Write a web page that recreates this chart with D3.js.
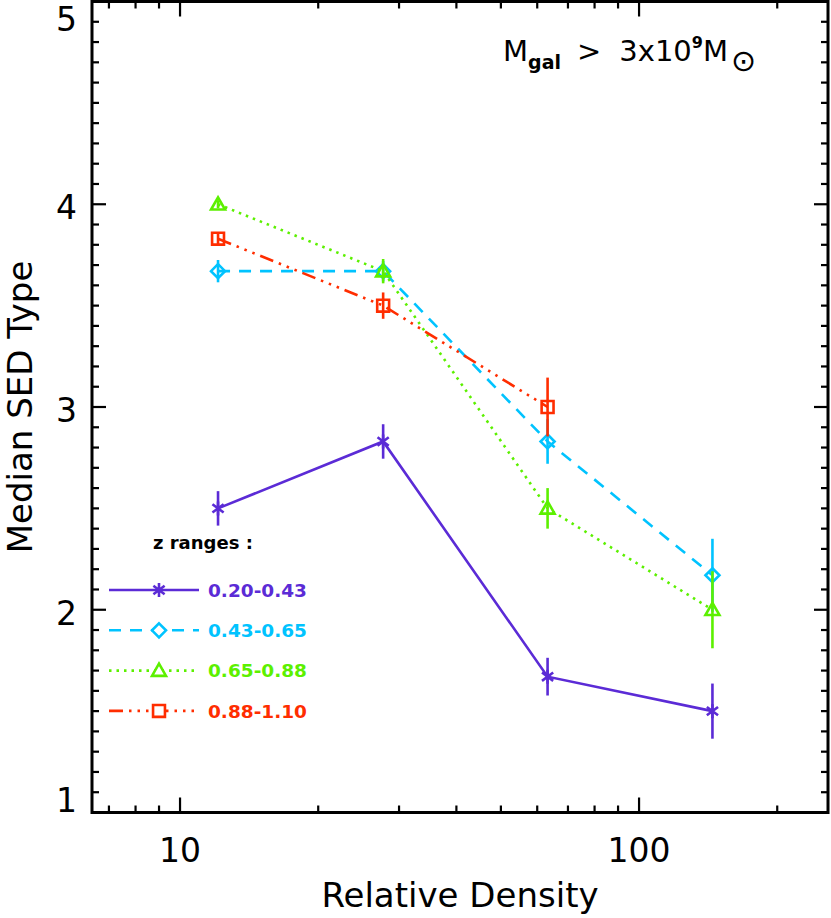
<!DOCTYPE html>
<html>
<meta charset="utf-8">
<head>
  <style>
    body { margin: 0; background: #fff; }
    svg text { font-family: "DejaVu Sans", sans-serif; }
  </style>
  <script src="https://d3js.org/d3.v7.min.js"></script>
</head>
<body>
<div id="chart-container"></div>
<script type="text/javascript">

  // median SED type vs relative density, one array per z range
  var density = [12.1, 27.7, 63.2, 144.5];
  var zRanges = ["0.20-0.43", "0.43-0.65", "0.65-0.88", "0.88-1.10"];

  var sedZ1 = [2.50, 2.83, 1.67, 1.50];
  var errZ1 = [0.085, 0.085, 0.093, 0.136];
  var sedZ2 = [3.67, 3.67, 2.83, 2.17];
  var errZ2 = [0.055, 0.05, 0.11, 0.18];
  var sedZ3 = [4.00, 3.67, 2.50, 2.00];
  var errZ3 = [0.02, 0.06, 0.10, 0.19];
  var sedZ4 = [3.83, 3.50, 3.00];
  var errZ4 = [0.03, 0.065, 0.145];

  var yTickLabels = [1, 2, 3, 4, 5];
  var xTickLabels = [10, 100];

  var colors = ["#5b2bd6", "#00c3ff", "#5cf000", "#ff2d00"];
  var dashes = [null, "12,9", "2.5,5", "14,6,2.5,6,2.5,6,2.5,6"];
  var symbols = ["asterisk", "diamond", "triangle", "square"];

  var w = 831, h = 918;
  // note: "top" is a reserved window global, so plot edges get their own names
  var plotL = 92, plotR = 828, plotT = 1.5, plotB = 812.5;

  var svg = d3.select("#chart-container").append("svg")
      .attr("width", w).attr("height", h);

  var x = d3.scaleLog().domain([6.43, 258]).range([plotL, plotR]);
  var y = d3.scaleLinear().domain([1, 5]).range([plotB, plotT]);

  // frame
  svg.append("rect")
      .attr("x", plotL).attr("y", plotT)
      .attr("width", plotR - plotL).attr("height", plotB - plotT)
      .attr("fill", "none").attr("stroke", "#000").attr("stroke-width", 3);

  // x ticks (bottom up, top down)
  var xt = x.ticks().filter(function(d){ return d > 6.43 && d < 258; });
  function isMajorX(d){ return Math.abs(Math.log10(d) - Math.round(Math.log10(d))) < 1e-6; }
  xt.forEach(function(d){
    var len = isMajorX(d) ? 15 : 7;
    svg.append("line").attr("x1", x(d)).attr("x2", x(d))
        .attr("y1", plotB).attr("y2", plotB - len)
        .attr("stroke", "#000").attr("stroke-width", 2.2);
    svg.append("line").attr("x1", x(d)).attr("x2", x(d))
        .attr("y1", plotT).attr("y2", plotT + len)
        .attr("stroke", "#000").attr("stroke-width", 2.2);
  });

  // y ticks every 0.1
  var yt = d3.range(10, 51).map(function(i){ return i / 10; });
  yt.forEach(function(d){
    var len = (Math.abs(d - Math.round(d)) < 1e-6) ? 14 : 7;
    svg.append("line").attr("x1", plotL).attr("x2", plotL + len)
        .attr("y1", y(d)).attr("y2", y(d))
        .attr("stroke", "#000").attr("stroke-width", 2.2);
    svg.append("line").attr("x1", plotR).attr("x2", plotR - len)
        .attr("y1", y(d)).attr("y2", y(d))
        .attr("stroke", "#000").attr("stroke-width", 2.2);
  });

  // tick labels (end labels pulled inside like the original)
  svg.selectAll(".ylab").data(yTickLabels).enter().append("text")
      .attr("class", "ylab")
      .attr("x", 77)
      .attr("y", function(d){ return Math.min(Math.max(y(d) + 3, 19), 800); })
      .attr("dy", "0.36em")
      .attr("text-anchor", "end")
      .style("font-size", "33px")
      .text(function(d){ return d; });

  svg.selectAll(".xlab").data(xTickLabels).enter().append("text")
      .attr("class", "xlab")
      .attr("x", function(d){ return x(d); })
      .attr("y", 862)
      .attr("text-anchor", "middle")
      .style("font-size", "33px")
      .text(function(d){ return d; });

  // axis titles
  svg.append("text")
      .attr("x", (plotL + plotR) / 2).attr("y", 907)
      .attr("text-anchor", "middle")
      .style("font-size", "34px")
      .text("Relative Density");

  svg.append("text")
      .attr("transform", "translate(32," + y(3) + ") rotate(-90)")
      .attr("text-anchor", "middle")
      .style("font-size", "34px")
      .text("Median SED Type");

  // mass cut label
  var title = svg.append("text").attr("x", 503).attr("y", 61).style("font-size", "29px");
  title.append("tspan").text("M");
  title.append("tspan").attr("dy", 8).style("font-size", "19px").style("font-weight", "bold").text("gal");
  title.append("tspan").attr("dy", -8).attr("dx", 16).text(">");
  title.append("tspan").attr("dx", 18).text("3x10");
  title.append("tspan").attr("dy", -13).style("font-size", "16px").style("font-weight", "bold").text("9");
  title.append("tspan").attr("dy", 13).text("M");
  title.append("tspan").attr("dy", 10).attr("dx", 3).style("font-size", "30px").text("\u2299");

  // marker shapes
  function markerPath(type, s){
    var p = d3.path();
    if (type == "asterisk"){
      p.moveTo(0, -s); p.lineTo(0, s);
      p.moveTo(-s * 0.8, -s * 0.6); p.lineTo(s * 0.8, s * 0.6);
      p.moveTo(-s * 0.8, s * 0.6); p.lineTo(s * 0.8, -s * 0.6);
    } else if (type == "diamond"){
      p.moveTo(0, -s); p.lineTo(s, 0); p.lineTo(0, s); p.lineTo(-s, 0); p.closePath();
    } else if (type == "triangle"){
      p.moveTo(-s, s * 0.75); p.lineTo(s, s * 0.75); p.lineTo(0, -s); p.closePath();
    } else {
      p.rect(-s * 0.85, -s * 0.85, s * 1.7, s * 1.7);
    }
    return p.toString();
  }

  var seriesVals = [sedZ1, sedZ2, sedZ3, sedZ4];
  var seriesErr = [errZ1, errZ2, errZ3, errZ4];

  var line = d3.line()
      .x(function(d){ return x(d[0]); })
      .y(function(d){ return y(d[1]); });

  seriesVals.forEach(function(vals, k){
    var pts = vals.map(function(v, i){ return [density[i], v, seriesErr[k][i]]; });
    var g = svg.append("g");

    g.append("path").datum(pts)
        .attr("d", line)
        .attr("fill", "none")
        .attr("stroke", colors[k])
        .attr("stroke-width", 2.6)
        .attr("stroke-dasharray", dashes[k]);

    g.selectAll(".err").data(pts).enter().append("line")
        .attr("x1", function(d){ return x(d[0]); })
        .attr("x2", function(d){ return x(d[0]); })
        .attr("y1", function(d){ return y(d[1] - d[2]); })
        .attr("y2", function(d){ return y(d[1] + d[2]); })
        .attr("stroke", colors[k]).attr("stroke-width", 2.6);

    g.selectAll(".mk").data(pts).enter().append("path")
        .attr("transform", function(d){ return "translate(" + x(d[0]) + "," + y(d[1]) + ")"; })
        .attr("d", markerPath(symbols[k], 7))
        .attr("fill", "none")
        .attr("stroke", colors[k]).attr("stroke-width", 2.6);
  });

  // legend
  svg.append("text").attr("x", 153).attr("y", 543).attr("dy", "0.35em")
      .style("font-size", "18px").style("font-weight", "bold")
      .text("z ranges :");

  zRanges.forEach(function(label, k){
    var ly = 590 + k * 40.3;
    svg.append("line").attr("x1", 109).attr("x2", 199)
        .attr("y1", ly).attr("y2", ly)
        .attr("stroke", colors[k]).attr("stroke-width", 2.6)
        .attr("stroke-dasharray", dashes[k]);
    svg.append("path")
        .attr("transform", "translate(159," + ly + ")")
        .attr("d", markerPath(symbols[k], 7))
        .attr("fill", "#fff")
        .attr("stroke", colors[k]).attr("stroke-width", 2.6);
    svg.append("text").attr("x", 208).attr("y", ly).attr("dy", "0.36em")
        .style("font-size", "18.5px").style("font-weight", "bold")
        .attr("fill", colors[k])
        .text(label);
  });

</script>
</body>
</html>
